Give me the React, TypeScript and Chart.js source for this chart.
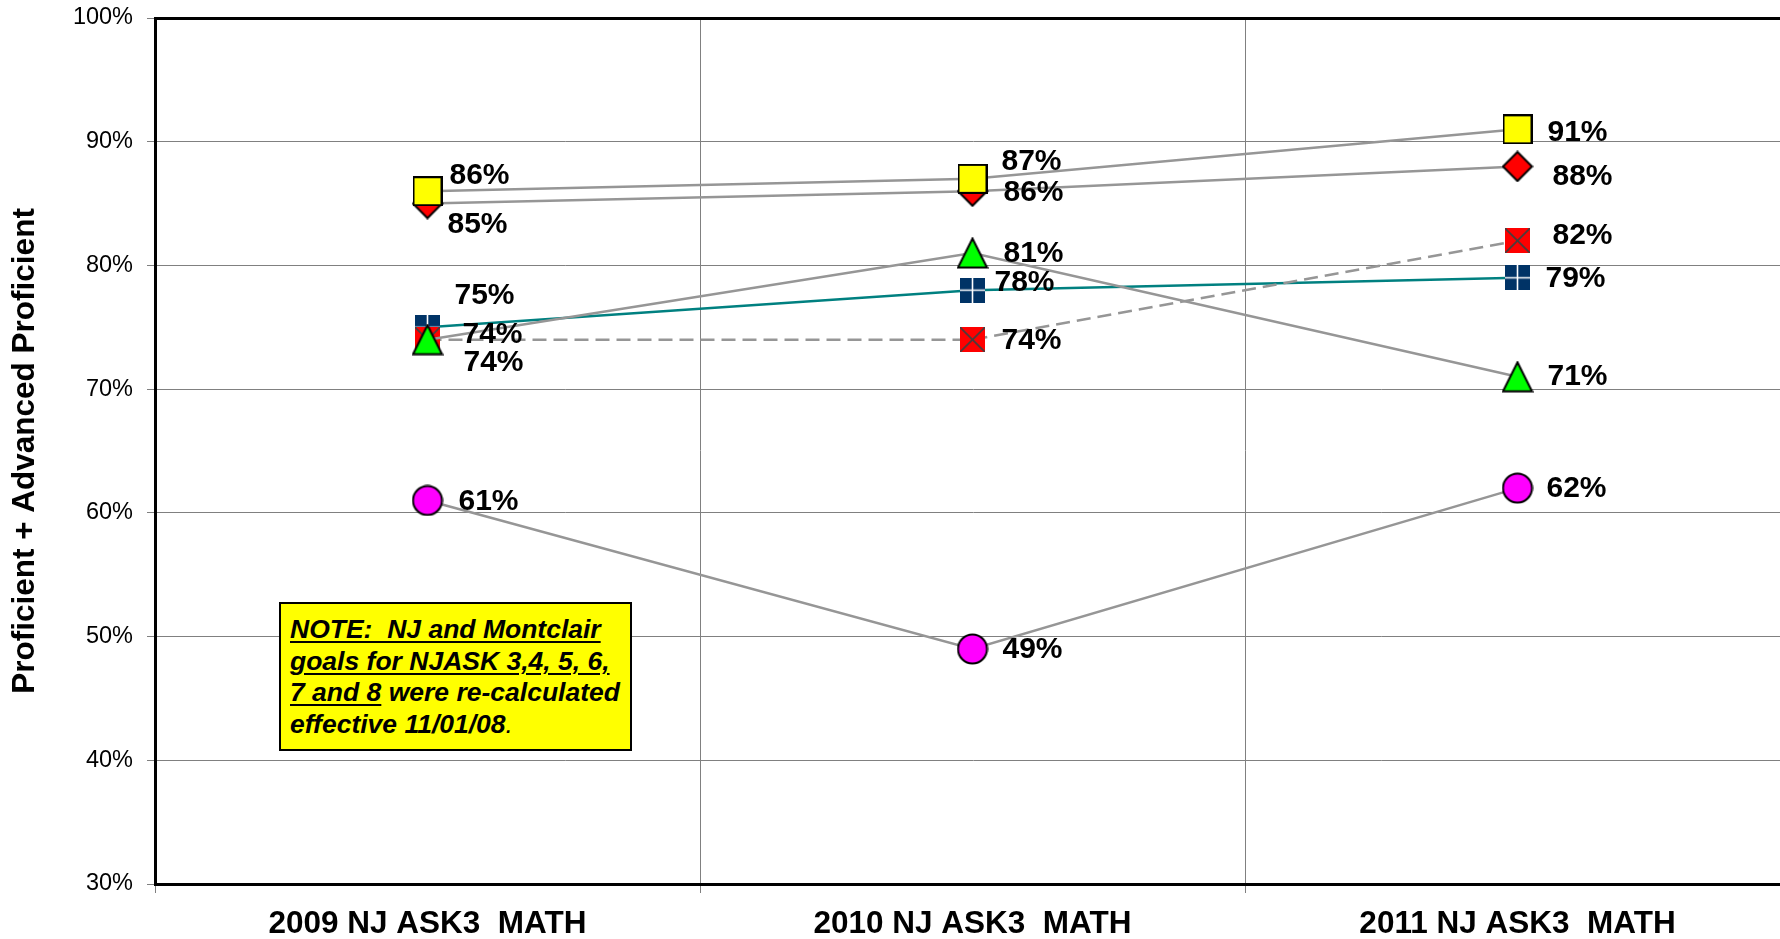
import React, { useEffect, useRef } from 'react';
import { Chart, registerables } from 'chart.js';

Chart.register(...registerables);

// ---- data ----
const categories = ['2009 NJ ASK3  MATH', '2010 NJ ASK3  MATH', '2011 NJ ASK3  MATH'];
const yellowSquare = [86, 87, 91];
const redDiamond = [85, 86, 88];
const greenTriangle = [74, 81, 71];
const redCross = [74, 74, 82];
const navyPlus = [75, 78, 79];
const magentaCircle = [61, 49, 62];
const yMin = 30;
const yMax = 100;
const yStep = 10;

// label offsets (style): [dx, dy] per point, per dataset in drawing order
const labelOffsets: number[][][] = [
  [[22, -15], [29, -17], [30, 3]],   // yellow square
  [[20, 21], [31, 2], [35, 10]],     // red diamond
  [[36, 23], [31, 1], [30, 0]],      // green triangle
  [[35, -5], [29, 1], [35, -5]],     // red cross square
  [[27, -32], [22, -7], [28, 1]],    // navy plus square
  [[31, 1], [30, 1], [29, 1]],       // magenta circle
];

const FONT = "'Liberation Sans', Arial, Helvetica, sans-serif";
const GREY = '#969696';

function mk(size: number, draw: (c: CanvasRenderingContext2D) => void) {
  const cv = document.createElement('canvas');
  cv.width = size;
  cv.height = size;
  const c = cv.getContext('2d')!;
  draw(c);
  return cv;
}

function makeMarkers() {
  const yellow = mk(30, (c) => {
    c.fillStyle = '#FFFF00';
    c.fillRect(1, 1, 28, 28);
    c.lineWidth = 2;
    c.strokeStyle = '#000';
    c.strokeRect(1, 1, 28, 28);
  });
  const diamond = mk(32, (c) => {
    c.beginPath();
    c.moveTo(16, 1.5);
    c.lineTo(30.5, 16);
    c.lineTo(16, 30.5);
    c.lineTo(1.5, 16);
    c.closePath();
    c.fillStyle = '#FF0000';
    c.fill();
    c.lineWidth = 2;
    c.strokeStyle = '#000';
    c.stroke();
  });
  const triangle = mk(32, (c) => {
    c.beginPath();
    c.moveTo(16, 1.5);
    c.lineTo(30.5, 30.5);
    c.lineTo(1.5, 30.5);
    c.closePath();
    c.fillStyle = '#00FF00';
    c.fill();
    c.lineWidth = 2;
    c.strokeStyle = '#000';
    c.stroke();
  });
  const cross = mk(25, (c) => {
    c.fillStyle = '#FF0000';
    c.fillRect(0, 0, 25, 25);
    c.strokeStyle = '#404040';
    c.lineWidth = 1.6;
    c.beginPath();
    c.moveTo(0, 0);
    c.lineTo(25, 25);
    c.moveTo(25, 0);
    c.lineTo(0, 25);
    c.stroke();
  });
  const plus = mk(25, (c) => {
    c.fillStyle = '#003366';
    c.fillRect(0, 0, 25, 25);
    c.strokeStyle = '#FFFFFF';
    c.lineWidth = 1.6;
    c.beginPath();
    c.moveTo(12.5, 0);
    c.lineTo(12.5, 25);
    c.moveTo(0, 12.5);
    c.lineTo(25, 12.5);
    c.stroke();
  });
  const circle = mk(32, (c) => {
    c.beginPath();
    c.arc(16, 16, 14.5, 0, Math.PI * 2);
    c.fillStyle = '#FF00FF';
    c.fill();
    c.lineWidth = 2;
    c.strokeStyle = '#000';
    c.stroke();
  });
  return { yellow, diamond, triangle, cross, plus, circle };
}

const labelPlugin = {
  id: 'valueLabels',
  afterDatasetsDraw(chart: any) {
    const ctx = chart.ctx;
    ctx.save();
    ctx.font = `bold 30px ${FONT}`;
    ctx.fillStyle = '#000';
    ctx.textBaseline = 'middle';
    ctx.textAlign = 'left';
    chart.data.datasets.forEach((ds: any, i: number) => {
      const meta = chart.getDatasetMeta(i);
      meta.data.forEach((pt: any, j: number) => {
        const off = labelOffsets[i][j];
        ctx.fillText(ds.data[j] + '%', pt.x + off[0], pt.y + off[1]);
      });
    });
    ctx.restore();
  },
};

export default function App() {
  const ref = useRef<HTMLCanvasElement>(null);

  useEffect(() => {
    if (!ref.current) return;
    const m = makeMarkers();
    const base = {
      borderWidth: 2.5,
      pointRadius: 15,
      pointHoverRadius: 15,
      tension: 0,
      fill: false,
    };
    const chart = new Chart(ref.current, {
      type: 'line',
      data: {
        labels: categories,
        datasets: [
          { ...base, label: 'Yellow', data: yellowSquare, borderColor: GREY, pointStyle: m.yellow as any },
          { ...base, label: 'Diamond', data: redDiamond, borderColor: GREY, pointStyle: m.diamond as any },
          { ...base, label: 'Triangle', data: greenTriangle, borderColor: GREY, pointStyle: m.triangle as any },
          { ...base, label: 'Cross', data: redCross, borderColor: GREY, borderDash: [14, 7], pointStyle: m.cross as any },
          { ...base, label: 'Plus', data: navyPlus, borderColor: '#008080', pointStyle: m.plus as any },
          { ...base, label: 'Circle', data: magentaCircle, borderColor: GREY, pointStyle: m.circle as any },
        ],
      },
      options: {
        responsive: false,
        animation: false,
        events: [],
        layout: { autoPadding: false, padding: { top: 18, right: 10, bottom: 0, left: 0 } },
        plugins: {
          legend: { display: false },
          tooltip: { enabled: false },
          title: { display: false },
        },
        scales: {
          x: {
            type: 'category',
            offset: true,
            grid: {
              offset: true,
              color: (c: any) => (c.index === 0 ? 'rgba(0,0,0,0)' : '#808080'),
              lineWidth: 1,
              tickLength: 9,
              tickColor: '#808080',
              tickWidth: 1,
            },
            border: { color: '#000', width: 3 },
            ticks: {
              color: '#000',
              padding: 12,
              maxRotation: 0,
              autoSkip: false,
              font: { family: FONT, size: 31.5, weight: 'bold' },
            },
            afterFit: (s: any) => {
              s.height = 55;
              s.paddingLeft = 0;
              s.paddingRight = 0;
            },
          },
          y: {
            min: yMin,
            max: yMax,
            grid: {
              color: (c: any) => (c.tick && c.tick.value === yMax ? '#000' : '#808080'),
              lineWidth: (c: any) => (c.tick && c.tick.value === yMax ? 3 : 1),
              tickLength: 8,
              tickColor: '#808080',
              tickWidth: 1,
            },
            border: { color: '#000', width: 3 },
            ticks: {
              stepSize: yStep,
              color: '#000',
              padding: 14,
              font: { family: FONT, size: 23.5 },
              callback: (v: any) => v + '%',
            },
            title: {
              display: true,
              text: 'Proficient + Advanced Proficient',
              color: '#000',
              font: { family: FONT, size: 31.5, weight: 'bold' },
              padding: { top: 6, bottom: 0 },
            },
            afterFit: (s: any) => {
              s.width = 155;
              s.paddingTop = 0;
              s.paddingBottom = 0;
            },
          },
        },
      },
      plugins: [labelPlugin],
    });
    return () => chart.destroy();
  }, []);

  const u = { textDecoration: 'underline', textDecorationThickness: '2px', textUnderlineOffset: '3px' } as React.CSSProperties;

  return (
    <div
      style={{
        position: 'absolute',
        left: 0,
        top: 0,
        width: 1780,
        height: 939,
        overflow: 'hidden',
        background: '#fff',
      }}
    >
      <canvas ref={ref} width={1800} height={939} style={{ display: 'block', width: 1800, height: 939 }} />
      <div
        style={{
          position: 'absolute',
          left: 279,
          top: 602,
          width: 353,
          height: 149,
          boxSizing: 'border-box',
          border: '2px solid #000',
          background: '#FFFF00',
          padding: '10px 0 0 9px',
          fontFamily: FONT,
          fontWeight: 'bold',
          fontStyle: 'italic',
          fontSize: 26.5,
          lineHeight: '31.5px',
          whiteSpace: 'nowrap',
          color: '#000',
        }}
      >
        <span style={u}>NOTE:&nbsp; NJ and Montclair</span>
        <br />
        <span style={u}>goals for NJASK 3,4, 5, 6,</span>
        <br />
        <span style={u}>7 and 8</span> were re-calculated
        <br />
        effective 11/01/08<span style={{ fontWeight: 'normal' }}>.</span>
      </div>
    </div>
  );
}
